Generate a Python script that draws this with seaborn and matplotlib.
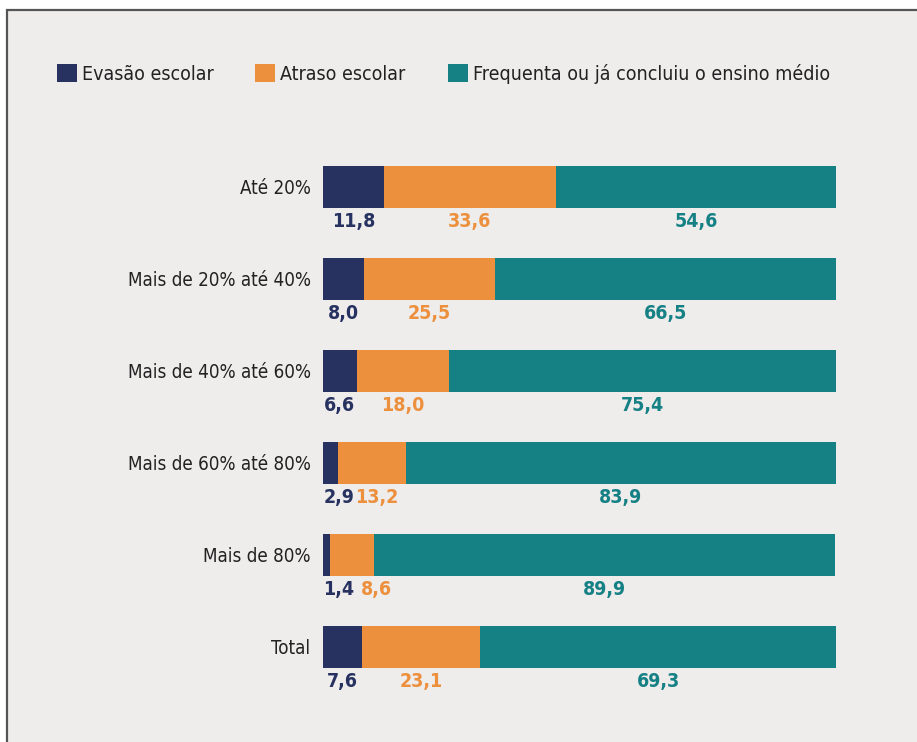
import numpy as np
import pandas as pd
import matplotlib
matplotlib.use("Agg")
import matplotlib.pyplot as plt
import seaborn as sns
from matplotlib.patches import Rectangle

categories = ["Até 20%", "Mais de 20% até 40%", "Mais de 40% até 60%",
              "Mais de 60% até 80%", "Mais de 80%", "Total"]
evasao = [11.8, 8.0, 6.6, 2.9, 1.4, 7.6]
atraso = [33.6, 25.5, 18.0, 13.2, 8.6, 23.1]
frequenta = [54.6, 66.5, 75.4, 83.9, 89.9, 69.3]
series_names = ["Evasão escolar", "Atraso escolar", "Frequenta ou já concluiu o ensino médio"]

NAVY = "#273260"
ORANGE = "#ec903d"
TEAL = "#158185"
BG = "#efecec"

sns.set_theme(style="white")
plt.rcParams['font.family'] = ['DejaVu Sans']
plt.rcParams['font.stretch'] = 'condensed'

df = pd.DataFrame({"cat": categories, "evasao": evasao, "atraso": atraso, "frequenta": frequenta})
df["c1"] = df["evasao"]
df["c2"] = df["evasao"] + df["atraso"]
df["c3"] = df["c2"] + df["frequenta"]

fig = plt.figure(figsize=(9.17, 7.42), dpi=100)
fig.patch.set_facecolor("white")
fig.patches.append(Rectangle((7 / 917, -0.05), 1.0, 1 - 10 / 742 + 0.05, transform=fig.transFigure,
                             facecolor=BG, edgecolor="#555555", lw=1.6, zorder=-5))

ax = fig.add_axes([323 / 917, 1 - 693 / 742, 513 / 917, (693 - 141) / 742])
ax.set_facecolor("none")

# stacked: draw cumulative totals back-to-front
bw = 0.4565
for col, c in (("c3", TEAL), ("c2", ORANGE), ("c1", NAVY)):
    sns.barplot(data=df, x=col, y="cat", color=c, saturation=1, width=bw, ax=ax,
                orient="h", linewidth=0, edgecolor="none")

ax.set_xlim(0, 100)
ax.set_ylim(5.5, -0.5)
sns.despine(ax=ax, left=True, bottom=True)
ax.set_xticks([])
ax.set_xlabel("")
ax.set_ylabel("")
ax.tick_params(axis="y", length=0, pad=9, labelsize=13.5, labelcolor="#222222")

# value labels under each segment, pushed right when they would collide
lw = 6.2  # approx label width in data units
gap = 1.2
for i in range(len(categories)):
    starts = [0, evasao[i], evasao[i] + atraso[i]]
    vals = [evasao[i], atraso[i], frequenta[i]]
    cols = [NAVY, ORANGE, TEAL]
    prev_right = -gap
    for s, v, c in zip(starts, vals, cols):
        cx = s + v / 2
        cx = max(cx, prev_right + gap + lw / 2)
        ax.text(cx, i + bw / 2 + 0.04, f"{v:.1f}".replace(".", ","), ha="center", va="top",
                color=c, fontsize=14, fontweight="bold")
        prev_right = cx + lw / 2

handles = [Rectangle((0, 0), 1, 1, facecolor=c, edgecolor="none") for c in (NAVY, ORANGE, TEAL)]
fig.legend(handles, series_names, loc="center left", bbox_to_anchor=(49 / 917, 1 - 74 / 742),
           ncol=3, frameon=False, handlelength=1.03, handleheight=1.03, handletextpad=0.26,
           columnspacing=2.15, fontsize=14, labelcolor="#222222", borderaxespad=0)

fig.savefig("out.png", dpi=100, facecolor=fig.get_facecolor())
